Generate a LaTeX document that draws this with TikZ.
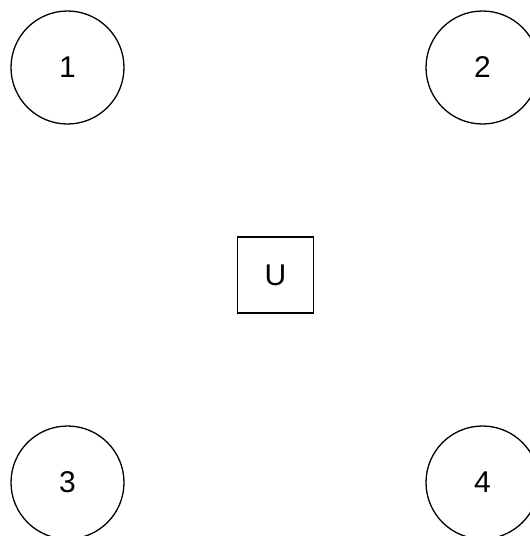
\documentclass[tikz,border=0pt]{standalone}
\usepackage{fontspec}
\setmainfont{Liberation Sans}
\begin{document}
\begin{tikzpicture}[x=1pt,y=-1pt,
  lbl/.style={font=\fontsize{30}{34}\selectfont},
  circ/.style={circle,draw,line width=1.3pt,minimum size=113pt,inner sep=0pt,lbl},
  sq/.style={rectangle,draw,line width=1.3pt,minimum size=76pt,inner sep=0pt,lbl}]
\useasboundingbox (0,0) rectangle (530,536);
\node[circ] (n1) at (67.5,67.5) {1};
\node[circ] (n2) at (482.5,67.5) {2};
\node[circ] (n3) at (67.5,482.5) {3};
\node[circ] (n4) at (482.5,482.5) {4};
\node[sq] (u) at (275.5,275) {U};
\end{tikzpicture}
\end{document}
